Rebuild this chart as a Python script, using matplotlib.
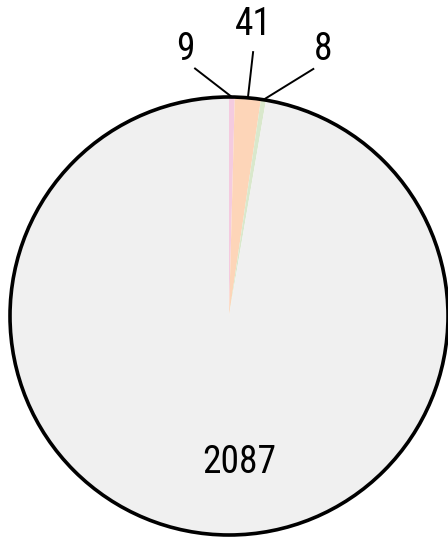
import matplotlib
matplotlib.use("Agg")
import matplotlib.pyplot as plt
from matplotlib.patches import Circle
import numpy as np

# slice values, clockwise from 12 o'clock
values = [9, 41, 8, 2087]
labels = ["9", "41", "8", "2087"]
colors = ["#f4cbe0", "#fdd5b8", "#d9e8cc", "#f0f0f0"]

plt.rcParams["font.family"] = ["Roboto Condensed", "DejaVu Sans"]

fig = plt.figure(figsize=(4.48, 5.38), dpi=100)
ax = fig.add_axes([0, 0, 1, 1])

wedges, _ = ax.pie(values, colors=colors, startangle=90, counterclock=False,
                   radius=1.0, wedgeprops=dict(linewidth=0))
for w in wedges:
    w.set_clip_on(False)

# outline
ax.add_patch(Circle((0, 0), 1.0, fill=False, edgecolor="black", lw=2.6, clip_on=False))

# labels for the three small slices with leader lines
text_pos = [(-0.20, 1.215), (0.11, 1.33), (0.43, 1.215)]
line_end = [(-0.155, 1.13), (0.11, 1.205), (0.385, 1.128)]
for w, lab, tp, le in zip(wedges[:3], labels[:3], text_pos, line_end):
    mid = np.deg2rad((w.theta1 + w.theta2) / 2)
    ax.plot([np.cos(mid), le[0]], [np.sin(mid), le[1]], color="black", lw=1.4,
            clip_on=False)
    ax.text(tp[0], tp[1], lab, ha="center", va="center", fontsize=27)

ax.text(0.046, -0.667, labels[3], ha="center", va="center", fontsize=27)

ax.set_xlim(-229 / 219, 219 / 219)
ax.set_ylim(-222 / 219, 316 / 219)
ax.set_aspect("auto")
ax.axis("off")

fig.savefig("out.png", dpi=100, facecolor="white")
